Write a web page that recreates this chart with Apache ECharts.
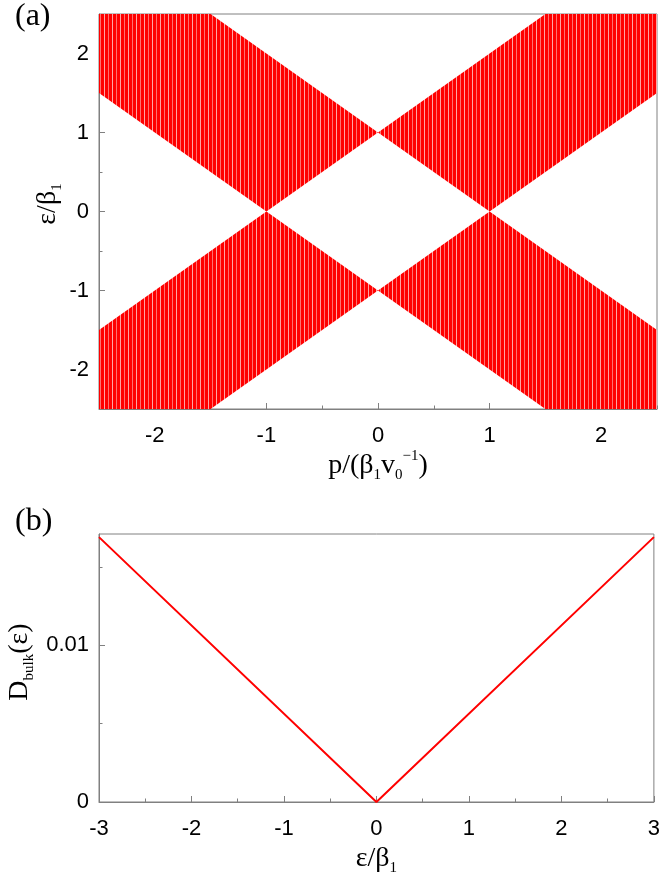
<!DOCTYPE html>
<html><head><meta charset="utf-8">
<script src="https://cdn.jsdelivr.net/npm/echarts@6/dist/echarts.min.js"></script>
<style>html,body{margin:0;padding:0;background:#fff}#c{width:663px;height:877px}</style>
</head><body><div id="c"></div>
<script>
// ---- Panel (a): band regions as polygons in (p, ε) ----
const upperLeftBand  = [[-2.5,2.5],[-1.5,2.5],[0,1],[-1,0],[-2.5,1.5]];
const upperRightBand = [[0,1],[1.5,2.5],[2.5,2.5],[2.5,1.5],[1,0]];
const lowerLeftBand  = [[-2.5,-1.5],[-1,0],[0,-1],[-1.5,-2.5],[-2.5,-2.5]];
const lowerRightBand = [[0,-1],[1,0],[2.5,-1.5],[2.5,-2.5],[1.5,-2.5]];
const bands = [upperLeftBand, upperRightBand, lowerLeftBand, lowerRightBand];
const pTicks = [-2,-1,0,1,2];
const pMinorTicks = [-2.5,-1.5,-0.5,0.5,1.5,2.5];
const epsTicksA = [-2,-1,0,1,2];
const epsMinorTicksA = [-2.5,-1.5,-0.5,0.5,1.5,2.5];
// ---- Panel (b): bulk density of states ----
const dosEps = [-3,0,3];
const dosVal = [0.0169,0,0.0169];
const epsTicksB = [-3,-2,-1,0,1,2,3];
const epsMinorTicksB = [-2.5,-1.5,-0.5,0.5,1.5,2.5];
const dosTicks = [0,0.01];
const dosMinorTicks = [0.005,0.015];

const AX = '#808080';
const SANS = 'Liberation Sans';
const SERIF = 'Liberation Serif';

// stripe pattern imitating the dense vertical lines
const pat = document.createElement('canvas');
pat.width = 8; pat.height = 4;
const g = pat.getContext('2d');
g.fillStyle = '#ff0000'; g.fillRect(0,0,8,4);
g.fillStyle = '#ffa4a4'; g.fillRect(0,0,1,4);
g.fillStyle = '#ff7070'; g.fillRect(4,0,1,4);

const rich = {
  m: {fontFamily: SERIF, fontSize: 28, lineHeight: 34, color: '#000', fill: '#000', verticalAlign: 'middle'},
  s: {fontFamily: SERIF, fontSize: 15, lineHeight: 15, color: '#000', fill: '#000', verticalAlign: 'bottom'},
  u: {fontFamily: SERIF, fontSize: 15, lineHeight: 15, color: '#000', fill: '#000', verticalAlign: 'top'}
};

function mainAxis(grid, min, max, interval, ticks, extra) {
  return Object.assign({
    type: 'value', gridIndex: grid, min: min, max: max, interval: interval,
    axisLine: {show: true, onZero: false, lineStyle: {color: AX, width: 1}},
    axisTick: {show: true, inside: true, length: 6, customValues: ticks, lineStyle: {color: AX}},
    axisLabel: {customValues: ticks, color: '#000', fontFamily: SANS, fontSize: 22, margin: 10},
    splitLine: {show: false}
  }, extra || {});
}
function minorAxis(grid, min, max, interval, ticks, pos) {
  return {
    type: 'value', gridIndex: grid, min: min, max: max, interval: interval, position: pos,
    axisLine: {show: false, onZero: false},
    axisTick: {show: true, inside: true, length: 3.5, customValues: ticks, lineStyle: {color: AX}},
    axisLabel: {show: false}, splitLine: {show: false}
  };
}

const chart = echarts.init(document.getElementById('c'), null, {renderer: 'canvas'});
chart.setOption({
  animation: false,
  backgroundColor: '#fff',
  grid: [
    {left: 99, top: 14, width: 558, height: 395, show: true, borderColor: AX, borderWidth: 1, backgroundColor: 'transparent'},
    {left: 99, top: 534, width: 558, height: 269, show: true, borderColor: AX, borderWidth: 1, backgroundColor: 'transparent'}
  ],
  xAxis: [
    mainAxis(0, -2.5, 2.5, 0.5, pTicks, {position: 'bottom',
      axisLabel: {customValues: pTicks, color: '#000', fontFamily: SANS, fontSize: 22, margin: 16},
      name: '{m|p/(β}{s|1}{m|v}{s|0}{u|−1}{m|)}', nameLocation: 'middle', nameGap: 40,
      nameTextStyle: {rich: rich}}),
    minorAxis(0, -2.5, 2.5, 0.5, pMinorTicks, 'bottom'),
    mainAxis(1, -3, 3, 1, epsTicksB, {position: 'bottom',
      axisLabel: {customValues: epsTicksB, color: '#000', fontFamily: SANS, fontSize: 22, margin: 16},
      name: '{m|ε/β}{s|1}', nameLocation: 'middle', nameGap: 40,
      nameTextStyle: {rich: rich}}),
    minorAxis(1, -3, 3, 1, epsMinorTicksB, 'bottom')
  ],
  yAxis: [
    mainAxis(0, -2.5, 2.5, 0.5, epsTicksA, {position: 'left'}),
    minorAxis(0, -2.5, 2.5, 0.5, epsMinorTicksA, 'left'),
    mainAxis(1, 0, 0.0171, 0.005, dosTicks, {position: 'left',
      axisLabel: {customValues: dosTicks, color: '#000', fontFamily: SANS, fontSize: 22, margin: 10,
        formatter: v => (v === 0 ? '0' : String(v))}}),
    minorAxis(1, 0, 0.0171, 0.005, dosMinorTicks, 'left')
  ],
  graphic: [
    {type: 'text', left: 15, top: 1, style: {text: '(a)', font: '32px "Liberation Serif"', fill: '#000'}},
    {type: 'text', left: 15, top: 506, style: {text: '(b)', font: '32px "Liberation Serif"', fill: '#000'}},
    {type: 'text', x: 48, y: 204, rotation: Math.PI / 2,
      style: {text: '{m|ε/β}{s|1}', rich: rich, align: 'center', verticalAlign: 'middle'}},
    {type: 'text', x: 20, y: 662, rotation: Math.PI / 2,
      style: {text: '{m|D}{s|bulk}{m|(ε)}', rich: rich, align: 'center', verticalAlign: 'middle'}}
  ],
  series: [
    {
      type: 'custom', coordinateSystem: 'cartesian2d', xAxisIndex: 0, yAxisIndex: 0,
      silent: true, z: 1,
      data: bands.map(b => b[0]),
      renderItem: function (params, api) {
        const pts = bands[params.dataIndex].map(pt => api.coord(pt));
        return {type: 'polygon', shape: {points: pts},
          style: {fill: {image: pat, repeat: 'repeat'}, stroke: null}};
      }
    },
    {
      type: 'line', xAxisIndex: 2, yAxisIndex: 2, showSymbol: false, symbol: 'none',
      data: dosEps.map((e, i) => [e, dosVal[i]]),
      lineStyle: {color: '#ff0000', width: 2}, silent: true
    }
  ]
});
</script>
</body></html>
